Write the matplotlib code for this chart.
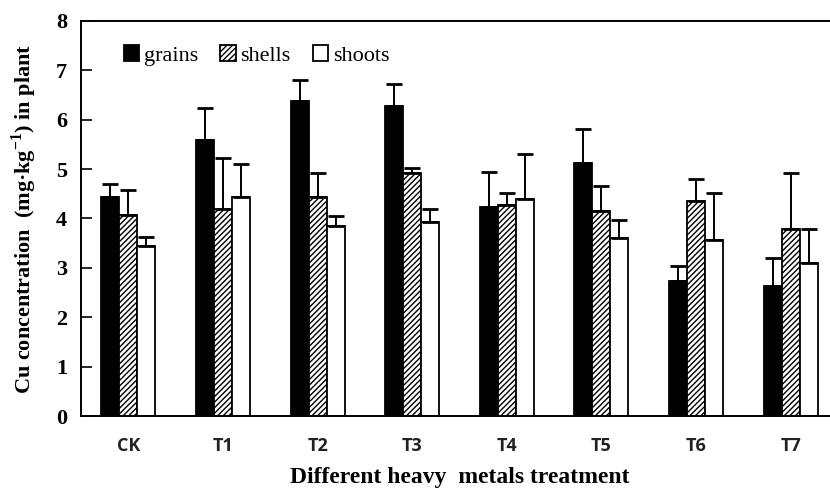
import matplotlib.pyplot as plt
import numpy as np

treatments = ['CK', 'T1', 'T2', 'T3', 'T4', 'T5', 'T6', 'T7']
grains = [4.43, 5.60, 6.38, 6.27, 4.24, 5.12, 2.74, 2.63]
grains_err = [0.27, 0.63, 0.42, 0.46, 0.71, 0.70, 0.30, 0.56]
shells = [4.08, 4.20, 4.43, 4.92, 4.27, 4.15, 4.35, 3.79]
shells_err = [0.50, 1.02, 0.50, 0.11, 0.24, 0.51, 0.45, 1.13]
shoots = [3.45, 4.43, 3.85, 3.93, 4.39, 3.60, 3.56, 3.10]
shoots_err = [0.18, 0.67, 0.20, 0.27, 0.91, 0.37, 0.95, 0.69]

plt.rcParams['hatch.linewidth'] = 1.0
plt.rcParams['mathtext.fontset'] = 'custom'
plt.rcParams['mathtext.rm'] = 'Liberation Serif'
plt.rcParams['mathtext.bf'] = 'Liberation Serif:bold'
serif = 'Liberation Serif'

fig = plt.figure(figsize=(8.3, 4.94), dpi=100)
ax = fig.add_axes([81 / 830, 78 / 494, 757 / 830, 395 / 494])

x = np.arange(len(treatments))
w = 0.19
series = [
    (grains, grains_err, 'black', None, 'grains'),
    (shells, shells_err, 'white', '//////', 'shells'),
    (shoots, shoots_err, 'white', None, 'shoots'),
]
for i, (vals, errs, fc, hatch, lab) in enumerate(series):
    pos = x + (i - 1) * w
    ax.bar(pos, vals, w, color=fc, edgecolor='black', linewidth=1.3,
           hatch=hatch, label=lab, zorder=2)
    ax.errorbar(pos, vals, yerr=[np.zeros(len(vals)), errs], fmt='none',
                ecolor='black', elinewidth=1.4, capsize=6, capthick=2,
                zorder=3)

ax.set_xlim(-0.5, 7.5)
ax.set_ylim(0, 8)
ax.set_yticks(range(0, 9))
ax.set_xticks(x)
ax.set_xticklabels(treatments, family='Open Sans', fontweight='bold',
                   fontsize=13, color='#222222')
for t in ax.get_yticklabels():
    t.set_fontfamily(serif)
    t.set_fontweight('bold')
    t.set_fontsize(16)
ax.tick_params(axis='y', direction='in', length=8, width=1.2, pad=10)
ax.tick_params(axis='x', length=0, pad=15)
ax.spines['right'].set_visible(False)
for s in ['left', 'bottom', 'top']:
    ax.spines[s].set_linewidth(1.4)

ax.set_xlabel('Different heavy  metals treatment', family=serif,
              fontweight='bold', fontsize=17, labelpad=9)
ax.set_ylabel('Cu concentration  (mg·kg$^{\\mathbf{-1}}$) in plant',
              family=serif, fontweight='bold', fontsize=16, labelpad=12)

ax.legend(loc='upper left', bbox_to_anchor=(0.03, 0.99), ncol=3, frameon=False,
          prop={'family': serif, 'size': 16}, handlelength=0.7,
          handleheight=0.7, handletextpad=0.2, columnspacing=1.0)

fig.savefig('out.png', dpi=100)
